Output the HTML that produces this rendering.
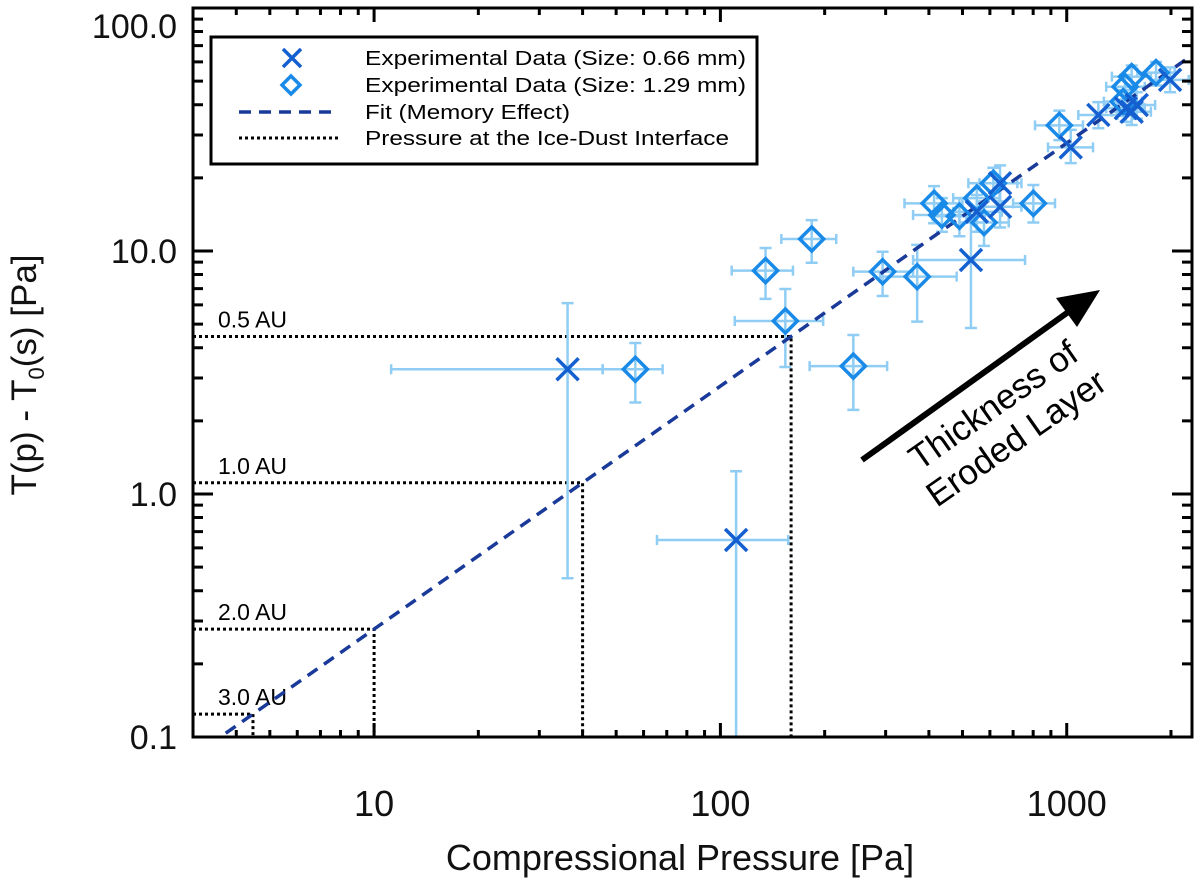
<!DOCTYPE html>
<html><head><meta charset="utf-8"><style>
html,body{margin:0;padding:0;background:#fff;}
svg{display:block;font-family:"Liberation Sans",Arial,sans-serif;}
</style></head><body>
<svg id="chart" width="1200" height="884" viewBox="0 0 1200 884" xmlns="http://www.w3.org/2000/svg">
<g id="marks"></g>
<g id="axes"></g>
<g id="legend">
  <rect x="211" y="37" width="546" height="127" fill="#fff" stroke="#000" stroke-width="3"/>
  <g>
    <path d="M283,49 L301,67 M301,49 L283,67" stroke="#1560d0" stroke-width="3.5" fill="none"/>
    <text x="365" y="65" font-size="20" textLength="381" lengthAdjust="spacingAndGlyphs">Experimental Data (Size: 0.66 mm)</text>
  </g>
  <g>
    <path d="M291,76 L300,85 L291,94 L282,85 Z" stroke="#1a8ae8" stroke-width="3.5" fill="none"/>
    <text x="365" y="92" font-size="20" textLength="381" lengthAdjust="spacingAndGlyphs">Experimental Data (Size: 1.29 mm)</text>
  </g>
  <g>
    <line x1="239" y1="112" x2="333" y2="112" stroke="#1a3a9a" stroke-width="3.5" stroke-dasharray="12 8"/>
    <text x="365" y="119" font-size="20" textLength="205" lengthAdjust="spacingAndGlyphs">Fit (Memory Effect)</text>
  </g>
  <g>
    <line x1="239" y1="138" x2="339" y2="138" stroke="#000" stroke-width="3" stroke-dasharray="3 3"/>
    <text x="365" y="145" font-size="20" textLength="364" lengthAdjust="spacingAndGlyphs">Pressure at the Ice-Dust Interface</text>
  </g>
</g>
<g>
  <line x1="862" y1="460" x2="1078" y2="305" stroke="#000" stroke-width="6"/>
  <path d="M1100,290 L1056,298 L1077,327 Z" fill="#000"/>
  <g transform="translate(1000,415) rotate(-35)">
    <text x="0" y="0" font-size="35" text-anchor="middle">Thickness of</text>
    <text x="0" y="40" font-size="35" text-anchor="middle">Eroded Layer</text>
  </g>
</g>
<text x="680" y="870" font-size="36" text-anchor="middle" fill="#111">Compressional Pressure [Pa]</text>
<text transform="translate(36,375) rotate(-90)" font-size="35" text-anchor="middle" fill="#111">T(p) - T<tspan font-size="22" dy="8">0</tspan><tspan dy="-8">(s) [Pa]</tspan></text>
</svg>
<script>
const xDomain = [3, 2300];
const yDomain = [0.1, 100];
const smallX = [36.2, 111, 529, 550, 642, 642, 1027, 1234, 1481, 1593, 1540, 1988];
const smallY = [3.26, 0.647, 9.18, 14.5, 19.0, 15.2, 26.7, 36.3, 38.7, 39.9, 37.4, 50.6];
const smallXlo = [11.2, 65.6, 360, 470, 560, 560, 883, 1080, 1300, 1400, 1350, 1750];
const smallXhi = [45.7, 157, 758, 650, 740, 740, 1191, 1400, 1680, 1800, 1750, 2250];
const smallYlo = [0.45, 0.05, 4.82, 12.0, 16.0, 12.5, 23.0, 32.0, 34.0, 35.0, 33.0, 45.0];
const smallYhi = [6.1, 1.24, 13.7, 17.0, 22.5, 18.0, 31.5, 41.0, 44.0, 45.0, 42.0, 57.0];
const largeX = [56.8, 154, 135, 183.5, 242, 294, 370, 414, 436, 490, 550, 577, 614, 801, 952, 1474, 1540, 1455, 1811];
const largeY = [3.26, 5.15, 8.30, 11.2, 3.36, 8.22, 7.84, 15.7, 14.06, 13.9, 16.5, 13.1, 19.0, 15.7, 32.9, 47.4, 52.2, 41.2, 54.2];
const largeXlo = [45.7, 110, 107.8, 150, 181, 242, 289, 340, 360, 410, 470, 490, 520, 700, 810, 1300, 1350, 1280, 1600];
const largeXhi = [68.1, 198, 162, 216, 303, 360, 481, 500, 520, 580, 640, 680, 720, 925, 1114, 1680, 1750, 1650, 2050];
const largeYlo = [2.38, 3.33, 6.35, 8.95, 2.22, 6.53, 5.12, 13.0, 12.0, 11.5, 14.0, 10.5, 16.5, 13.1, 28.6, 42.0, 46.0, 36.0, 48.0];
const largeYhi = [4.18, 6.98, 10.29, 13.4, 4.51, 9.93, 10.6, 18.5, 16.5, 16.5, 19.0, 16.0, 22.0, 18.7, 37.8, 53.0, 58.0, 46.0, 60.0];
const fitCoef = [0.0278];
const auLabels = ["0.5 AU", "1.0 AU", "2.0 AU", "3.0 AU"];
const auPressure = [160, 40, 10, 4.47];
const xTicks = [10, 100, 1000];
const xTickLabels = ["10", "100", "1000"];
const yTicks = [0.1, 1, 10, 100];
const yTickLabels = ["0.1", "1.0", "10.0", "100.0"];

const L = 193, R = 1192, T = 8, B = 737;
const NS = "http://www.w3.org/2000/svg";
function sx(v) { return L + (Math.log10(v) - Math.log10(xDomain[0])) / (Math.log10(xDomain[1]) - Math.log10(xDomain[0])) * (R - L); }
function sy(v) { return B - (Math.log10(v) - Math.log10(yDomain[0])) / (Math.log10(yDomain[1]) - Math.log10(yDomain[0])) * (B - T); }
function mk(tag, attrs, parent) {
  const e = document.createElementNS(NS, tag);
  for (const k in attrs) e.setAttribute(k, attrs[k]);
  parent.appendChild(e);
  return e;
}
const marks = document.getElementById('marks');
const axes = document.getElementById('axes');
const clip = mk('clipPath', {id: 'pc'}, marks);
mk('rect', {x: L, y: T, width: R - L, height: B - T}, clip);
const plot = mk('g', {'clip-path': 'url(#pc)'}, marks);

auPressure.forEach((p, i) => {
  const yv = fitCoef[0] * p;
  const g = mk('g', {}, plot);
  
  
  mk('path', {d: `M${L},${sy(yv)} H${sx(p)} V${B}`, stroke: '#000', 'stroke-width': 3, 'stroke-dasharray': '3 3', fill: 'none'}, g);
  const t = mk('text', {x: 218, y: sy(yv) - 9, 'font-size': 23, fill: '#000'}, g);
  t.textContent = auLabels[i];
});

function errBars(xs, ys, xlo, xhi, ylo, yhi, name) {
  xs.forEach((x, i) => {
    const g = mk('g', {stroke: '#90cdf4', 'stroke-width': 2.5, fill: 'none'}, plot);
    
    
    const cx = sx(x), cy = sy(ys[i]);
    const x1 = sx(xlo[i]), x2 = sx(xhi[i]), y1 = sy(ylo[i]), y2 = sy(yhi[i]);
    mk('path', {d: `M${x1},${cy} H${x2} M${x1},${cy - 5} V${cy + 5} M${x2},${cy - 5} V${cy + 5} M${cx},${y1} V${y2} M${cx - 6},${y2} H${cx + 6} M${cx - 6},${y1} H${cx + 6}`}, g);
  });
}
errBars(smallX, smallY, smallXlo, smallXhi, smallYlo, smallYhi, 'small');
errBars(largeX, largeY, largeXlo, largeXhi, largeYlo, largeYhi, 'large');

const fit = mk('line', {x1: sx(xDomain[0]), y1: sy(fitCoef[0] * xDomain[0]), x2: sx(xDomain[1]), y2: sy(fitCoef[0] * xDomain[1]), stroke: '#1a3a9a', 'stroke-width': 3.5, 'stroke-dasharray': '12 8'}, plot);



largeX.forEach((x, i) => {
  const cx = sx(x), cy = sy(largeY[i]), r = 12;
  const p = mk('path', {d: `M${cx},${cy - r} L${cx + r},${cy} L${cx},${cy + r} L${cx - r},${cy} Z`, stroke: '#1a8ae8', 'stroke-width': 3.5, fill: 'none'}, plot);
  
  
});
smallX.forEach((x, i) => {
  const cx = sx(x), cy = sy(smallY[i]), r = 11;
  const p = mk('path', {d: `M${cx - r},${cy - r} L${cx + r},${cy + r} M${cx + r},${cy - r} L${cx - r},${cy + r}`, stroke: '#1560d0', 'stroke-width': 3.5, fill: 'none'}, plot);
  
  
});

const frame = mk('rect', {x: L, y: T, width: R - L, height: B - T, fill: 'none', stroke: '#000', 'stroke-width': 3}, axes);



let td = '';
for (let e = 0; e <= 3; e++) {
  for (let m = 1; m <= 9; m++) {
    const v = m * Math.pow(10, e);
    if (v < xDomain[0] || v > xDomain[1]) continue;
    const len = m === 1 ? 14 : 7;
    const px = sx(v);
    td += `M${px},${B} V${B - len} M${px},${T} V${T + len} `;
  }
}
for (let e = -1; e <= 2; e++) {
  for (let m = 1; m <= 9; m++) {
    const v = m * Math.pow(10, e);
    if (v < yDomain[0] - 1e-9 || v > yDomain[1] + 1e-9) continue;
    const len = m === 1 ? 20 : 10;
    const py = sy(v);
    td += `M${L},${py} H${L + len} M${R},${py} H${R - len} `;
  }
}
const ticks = mk('path', {d: td, stroke: '#000', 'stroke-width': 3, fill: 'none'}, axes);



xTicks.forEach((v, i) => {
  const t = mk('text', {x: sx(v), y: 816, 'font-size': 36, 'text-anchor': 'middle', fill: '#111'}, axes);
  
  
  t.textContent = xTickLabels[i];
});
yTicks.forEach((v, i) => {
  let y = sy(v) + 12;
  if (i === yTicks.length - 1) y = 38;
  const t = mk('text', {x: 177, y: y, 'font-size': 34, 'text-anchor': 'end', fill: '#111'}, axes);
  
  
  t.textContent = yTickLabels[i];
});
</script>
</body></html>
